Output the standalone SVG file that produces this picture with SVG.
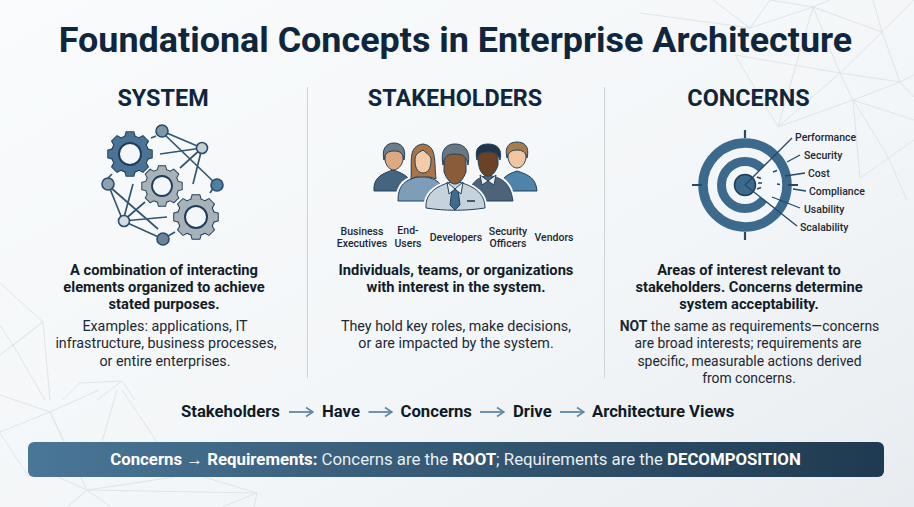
<svg xmlns="http://www.w3.org/2000/svg" width="914" height="507" viewBox="0 0 914 507">
<defs>
<linearGradient id="bg" x1="0" y1="0" x2="1" y2="1"><stop offset="0" stop-color="#f9fbfc"/><stop offset="0.6" stop-color="#f3f6f8"/><stop offset="1" stop-color="#e8ecf0"/></linearGradient>
<linearGradient id="banner" x1="0" y1="0" x2="1" y2="0"><stop offset="0" stop-color="#4a7697"/><stop offset="1" stop-color="#1f3a50"/></linearGradient>
<g id="gear"><path d="M78,-22L99,-16L99,16L78,22Z"/><path d="M78,-22L99,-16L99,16L78,22Z" transform="rotate(45)"/><path d="M78,-22L99,-16L99,16L78,22Z" transform="rotate(90)"/><path d="M78,-22L99,-16L99,16L78,22Z" transform="rotate(135)"/><path d="M78,-22L99,-16L99,16L78,22Z" transform="rotate(180)"/><path d="M78,-22L99,-16L99,16L78,22Z" transform="rotate(225)"/><path d="M78,-22L99,-16L99,16L78,22Z" transform="rotate(270)"/><path d="M78,-22L99,-16L99,16L78,22Z" transform="rotate(315)"/><circle r="82"/></g>
<marker id="arr" markerWidth="12" markerHeight="12" refX="11" refY="6" orient="auto" markerUnits="userSpaceOnUse"><path d="M4,1.500L11,6L4,10.500" fill="none" stroke="#5f87a6" stroke-width="1.7"/></marker>
</defs>
<style>
text{font-family:Roboto,"Liberation Sans",sans-serif;fill:#111c28}
.title{font-size:35.9px;font-weight:700;fill:#10263d;text-anchor:middle}
.head{font-size:23.4px;font-weight:700;fill:#10263d;text-anchor:middle}
.lead{font-size:14.7px;font-weight:700;text-anchor:middle}
.body{font-size:14.3px;text-anchor:middle;fill:#1c2833}
.body3{font-size:13.9px}
.role{font-size:10.5px;font-weight:500;text-anchor:middle;fill:#1c2833}
.con{font-size:10.5px;font-weight:500;fill:#1c2833}
.flow{font-size:16.7px;font-weight:700;fill:#0f1a26}
.ban{font-size:16.8px;fill:#e8eff4;text-anchor:middle}
.b{font-weight:700;fill:#fff}
.poly{fill:none;stroke:#dfe4e8;stroke-width:1}
.div{stroke:#ccd4da;stroke-width:1}
.net{stroke:#35566f;stroke-width:1.7;fill:none}
.nd{stroke:#294c6a;stroke-width:1.6}
.hole{fill:#f4f7f9;stroke:#1f3d58;stroke-width:9}
.lab{stroke:#22486a;stroke-width:1.3;fill:none}
.dash{stroke:#22486a;stroke-width:1.6;fill:none}
.ring{fill:none;stroke:#3c6a8c}
.tick{stroke:#24496a;stroke-width:2.2}
.skin{stroke:#24415a;stroke-width:1}
.halo{fill:none;stroke:#f7f9fb;stroke-width:5}
.flowarrow{stroke:#5f87a6;stroke-width:1.8;fill:none;marker-end:url(#arr)}
</style>
<rect width="914" height="507" fill="url(#bg)"/>
<g id="background">
<path class="poly" d="M0,283L43,322L13,345L45,400M0,355L43,322M0,325L13,345M63,400L80,383L122,381L135,400M122,381L97,400M43,322L50,400"/>
<path class="poly" d="M0,395L50,412L99,390M50,412L0,432M0,433L29,477M50,412L87,490M117,390L102,442M122,390L157,442M50,412L64,442M87,490L257,493M87,490L67,507M87,490L111,507M87,490L175,477M87,490L58,477M257,493L222,507M257,493L254,507M257,493L204,477"/>
<path class="poly" d="M713,0L750,28L813,7L770,0M750,28L770,0M813,7L882,32L873,0M882,32L914,0M813,7L840,73M813,7L778,127M735,55L840,73M735,55L778,127M840,73L882,32M882,32L900,82M840,73L900,82M840,73L853,100M778,127L840,73M778,127L853,100M853,100L900,82M900,82L914,75M853,100L860,178M853,100L914,120M860,178L914,140M853,100L887,155L907,200M900,82L914,97M640,13L750,28M813,7L830,0"/>
</g>
<text class="title" x="455.500" y="52">Foundational Concepts in Enterprise Architecture</text>
<line class="div" x1="307.500" y1="87" x2="307.500" y2="378"/>
<line class="div" x1="604.500" y1="87" x2="604.500" y2="378"/>
<g id="system">
<text class="head" x="163" y="106">SYSTEM</text>
<g id="network">
<path class="net" d="M162,131L202,148M202,148L160,154M202,148L180,168M202,148L193,184M165,135L216,184M216,184L210,193M151,138L156,136M108,184L123,221M110,187L158,229M123,221L133,184M123,221L145,202M123,221L167,217M123,221L163,239M163,239L175,232M108,178L112,174"/>
<circle class="nd" cx="162" cy="131" r="6" fill="#7f96a8"/><circle class="nd" cx="202" cy="148" r="5.500" fill="#c5d0d8"/><circle class="nd" cx="217" cy="185" r="6" fill="#4f7fa3"/><circle class="nd" cx="108" cy="184" r="6" fill="#8ea2b2"/><circle class="nd" cx="124" cy="221" r="5.500" fill="#d5dde3"/><circle class="nd" cx="163" cy="239" r="6" fill="#6a8499"/>
<g transform="translate(130,154) scale(.22)"><use href="#gear" stroke="#1f3d58" stroke-width="9" fill="#4a7396"/><use href="#gear" fill="#4a7396"/><circle r="50" class="hole"/></g>
<g transform="translate(162,186) scale(.2)"><use href="#gear" stroke="#1f3d58" stroke-width="9" fill="#a8b2ba"/><use href="#gear" fill="#a8b2ba"/><circle r="50" class="hole"/></g>
<g transform="translate(196,217) scale(.22)"><use href="#gear" stroke="#1f3d58" stroke-width="9" fill="#a8b2ba"/><use href="#gear" fill="#a8b2ba"/><circle r="50" class="hole"/></g>
</g>
<text class="lead" x="164" y="275">A combination of interacting</text>
<text class="lead" x="164" y="292">elements organized to achieve</text>
<text class="lead" x="164" y="309">stated purposes.</text>
<text class="body" x="165" y="331">Examples: applications, IT</text>
<text class="body" x="166" y="348">infrastructure, business processes,</text>
<text class="body" x="165" y="366">or entire enterprises.</text>
</g>
<g id="stakeholders">
<text class="head" x="455" y="106">STAKEHOLDERS</text>
<g id="people">
<g id="p1"><path class="skin" fill="#45647f" d="M374,191C373,179 380,174 393,170C406,174 412,179 414,191Z"/><path class="skin" fill="#e0a880" d="M385,160L385,152C387,146 401,146 403,152L403,160C402,166 397,170 394,170C390,170 386,166 385,160Z"/><path class="skin" fill="#6d7c89" d="M384,160C381,147 388,143 394,143C400,143 407,147 404,160C403,153 400,151 394,151C388,151 385,153 384,160Z"/></g>
<g id="p5"><path class="skin" fill="#4f83aa" d="M500,191C500,179 505,175 517,171C530,175 536,179 537,191Z"/><path class="skin" fill="#f2c6a0" d="M508,158L508,150C510,146 525,146 526,150L526,158C525,164 521,168 517,168C513,168 509,164 508,158Z"/><path class="skin" fill="#a97c50" d="M507,158C504,146 510,142 517,142C524,142 530,146 527,158C526,152 522,150 517,150C512,150 508,152 507,158Z"/></g>
<g id="p2"><path class="halo" d="M398,201C398,185 405,179 422,176C439,179 445,185 445,201Z"/><path class="skin" fill="#7d9db8" d="M398,201C398,185 405,179 422,176C439,179 445,185 445,201Z"/><path class="skin" fill="#a8744a" d="M411,179C412,160 408,146 423,144C437,146 434,160 436,179L430,177L416,177Z"/><path class="skin" fill="#f4cba8" d="M415,160C415,154 418,153 423,150C427,154 431,155 431,160C431,170 427,173 423,173C419,173 415,170 415,160Z"/></g>
<g id="p4"><path class="halo" d="M469,190C474,180 480,177 488,175C502,178 510,182 513,201L475,201Z"/><path class="skin" fill="#4c6378" d="M469,190C474,180 480,177 488,175C502,178 510,182 513,201L475,201Z"/><path fill="#e8edf0" class="skin" d="M480,175L488,181L496,175L494,185L488,181L482,185Z"/><path class="skin" fill="#6b4226" d="M478,160L478,154C482,148 494,148 498,154L498,165C496,172 492,176 488,176C483,176 479,172 478,160Z"/><path class="skin" fill="#243448" d="M477,160C474,148 480,144 488,144C496,144 503,148 500,160C498,153 494,152 488,152C482,152 478,153 477,160Z"/></g>
<g id="p3"><path class="halo" d="M426,208C425,192 438,185 455,181C472,185 485,192 485,208C465,211 445,211 426,208Z"/><path class="skin" fill="#c6d2dc" d="M426,208C425,192 438,185 455,181C472,185 485,192 485,208C465,211 445,211 426,208Z"/><path fill="#3e6a8e" class="skin" d="M452,189L458,189L460,205L455,210L450,205Z"/><path fill="#e9eef2" class="skin" d="M447,182L455,189L449,194Z"/><path fill="#e9eef2" class="skin" d="M463,182L455,189L461,194Z"/><path class="skin" fill="#8a5c3a" d="M444,160L444,152C448,146 462,146 466,152L466,172C463,180 459,184 455,184C451,184 447,180 444,172Z"/><path class="skin" fill="#6a7680" d="M443,165C440,150 446,144 455,144C464,144 471,150 468,165C467,156 462,154 455,154C448,154 444,156 443,165Z"/><line x1="467" y1="201" x2="475" y2="201" stroke="#17324a" stroke-width="1.5"/></g>
</g>
<text class="role" x="362" y="235">Business</text><text class="role" x="362" y="247">Executives</text>
<text class="role" x="408" y="234">End-</text><text class="role" x="408" y="247">Users</text>
<text class="role" x="456" y="241">Developers</text>
<text class="role" x="508" y="235">Security</text><text class="role" x="508" y="247">Officers</text>
<text class="role" x="554" y="241">Vendors</text>
<text class="lead" x="456" y="275">Individuals, teams, or organizations</text>
<text class="lead" x="456" y="292">with interest in the system.</text>
<text class="body" x="456" y="331">They hold key roles, make decisions,</text>
<text class="body" x="456" y="348">or are impacted by the system.</text>
</g>
<g id="concerns">
<text class="head" x="748.500" y="106">CONCERNS</text>
<g id="target">
<circle class="ring" cx="745" cy="185" r="42" stroke-width="9.500"/>
<circle class="ring" cx="745" cy="185" r="23.500" stroke-width="9"/>
<path d="M745,185L771,159A37,37 0 0 1 774,208Z" fill="#f5f8fa"/>
<circle cx="745" cy="185" r="10.500" fill="#3c6a8c" stroke="#1f3d58" stroke-width="1.5"/>
<path class="tick" d="M745,130V138M745,232V240M692,185H702M788,185H798"/>
<path class="lab" d="M745,185L792,138M787,162L800,155M785,176L805,173M793,189L806,191M772,197L800,208M745,185L797,226"/>
<path class="dash" d="M773,172L777,170.500M757,177L761,178.500M758,183H762M777,184L780,184.500M757,189L761,187.500"/>
</g>
<text class="con" x="795" y="141">Performance</text>
<text class="con" x="804" y="159">Security</text>
<text class="con" x="808" y="177">Cost</text>
<text class="con" x="809" y="195">Compliance</text>
<text class="con" x="804" y="213">Usability</text>
<text class="con" x="800" y="231">Scalability</text>
<text class="lead" x="749" y="275">Areas of interest relevant to</text>
<text class="lead" x="749" y="292">stakeholders. Concerns determine</text>
<text class="lead" x="749" y="309">system acceptability.</text>
<text class="body body3" x="749.500" y="331"><tspan font-weight="700">NOT</tspan> the same as requirements—concerns</text>
<text class="body body3" x="748" y="348">are broad interests; requirements are</text>
<text class="body body3" x="749.500" y="366">specific, measurable actions derived</text>
<text class="body body3" x="749" y="383">from concerns.</text>
</g>
<g id="flow">
<text class="flow" x="181" y="417">Stakeholders</text>
<text class="flow" x="322" y="417">Have</text>
<text class="flow" x="400.500" y="417">Concerns</text>
<text class="flow" x="513" y="417">Drive</text>
<text class="flow" x="592" y="417">Architecture Views</text>
</g>
<g id="connectors">
<line class="flowarrow" x1="289" y1="412" x2="313" y2="412"/>
<line class="flowarrow" x1="368.500" y1="412" x2="392" y2="412"/>
<line class="flowarrow" x1="480" y1="412" x2="504" y2="412"/>
<line class="flowarrow" x1="560" y1="412" x2="584" y2="412"/>
</g>
<g id="banner-bar">
<rect x="28" y="442" width="856" height="35" rx="6" fill="url(#banner)"/>
<text class="ban" x="455.500" y="465"><tspan class="b">Concerns → Requirements:</tspan> Concerns are the <tspan class="b">ROOT</tspan>; Requirements are the <tspan class="b">DECOMPOSITION</tspan></text>
</g>
</svg>
